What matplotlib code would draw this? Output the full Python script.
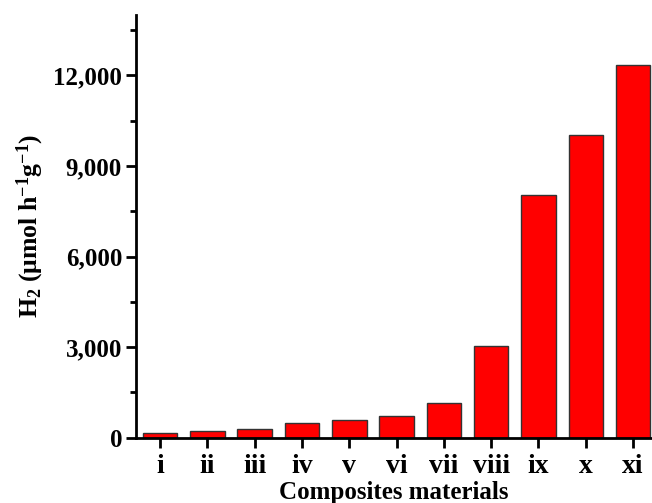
import matplotlib.pyplot as plt
from matplotlib.ticker import MultipleLocator, StrMethodFormatter

materials = ['i', 'ii', 'iii', 'iv', 'v', 'vi', 'vii', 'viii', 'ix', 'x', 'xi']
h2_rate = [155, 230, 280, 480, 590, 720, 1140, 3040, 8030, 10030, 12350]

plt.rcParams['font.family'] = ['Liberation Serif', 'DejaVu Serif']
plt.rcParams['font.weight'] = 'bold'
plt.rcParams['mathtext.fontset'] = 'custom'
plt.rcParams['mathtext.rm'] = 'Liberation Serif:bold'
plt.rcParams['mathtext.it'] = 'Liberation Serif:bold'
plt.rcParams['mathtext.bf'] = 'Liberation Serif:bold'

fig = plt.figure(figsize=(6.52, 5.03), dpi=100)
ax = fig.add_axes([136 / 652, 1 - 437.7 / 503, 1 - 136 / 652, (437.7 - 15) / 503])

ax.bar(range(len(materials)), h2_rate, width=0.73, color='#ff0000',
       edgecolor='#333333', linewidth=1.0)

ax.set_xlim(-0.51, 10.4)
ax.set_ylim(0, 14000)
ax.set_xticks(range(len(materials)))
ax.set_xticklabels(materials)
ax.yaxis.set_major_locator(MultipleLocator(3000))
ax.yaxis.set_minor_locator(MultipleLocator(1500))
ax.yaxis.set_major_formatter(StrMethodFormatter('{x:,.0f}'))

for side in ['top', 'right']:
    ax.spines[side].set_visible(False)
for side in ['left', 'bottom']:
    ax.spines[side].set_linewidth(2.0)

ax.tick_params(axis='y', which='major', direction='out', length=7, width=2.0,
               labelsize=18, pad=3)
ax.tick_params(axis='y', which='minor', direction='out', length=4, width=2.0)
ax.tick_params(axis='x', which='major', direction='out', length=7, width=2.0,
               labelsize=20, pad=5)

ax.set_xlabel('Composites materials', fontsize=18, fontweight='bold', labelpad=1)
ax.set_ylabel(r'H$_2$ ($\mu$mol h$^{-1}$g$^{-1}$)', fontsize=18.5,
              fontweight='bold', labelpad=5)

plt.savefig('out.png', dpi=100)
plt.close()
